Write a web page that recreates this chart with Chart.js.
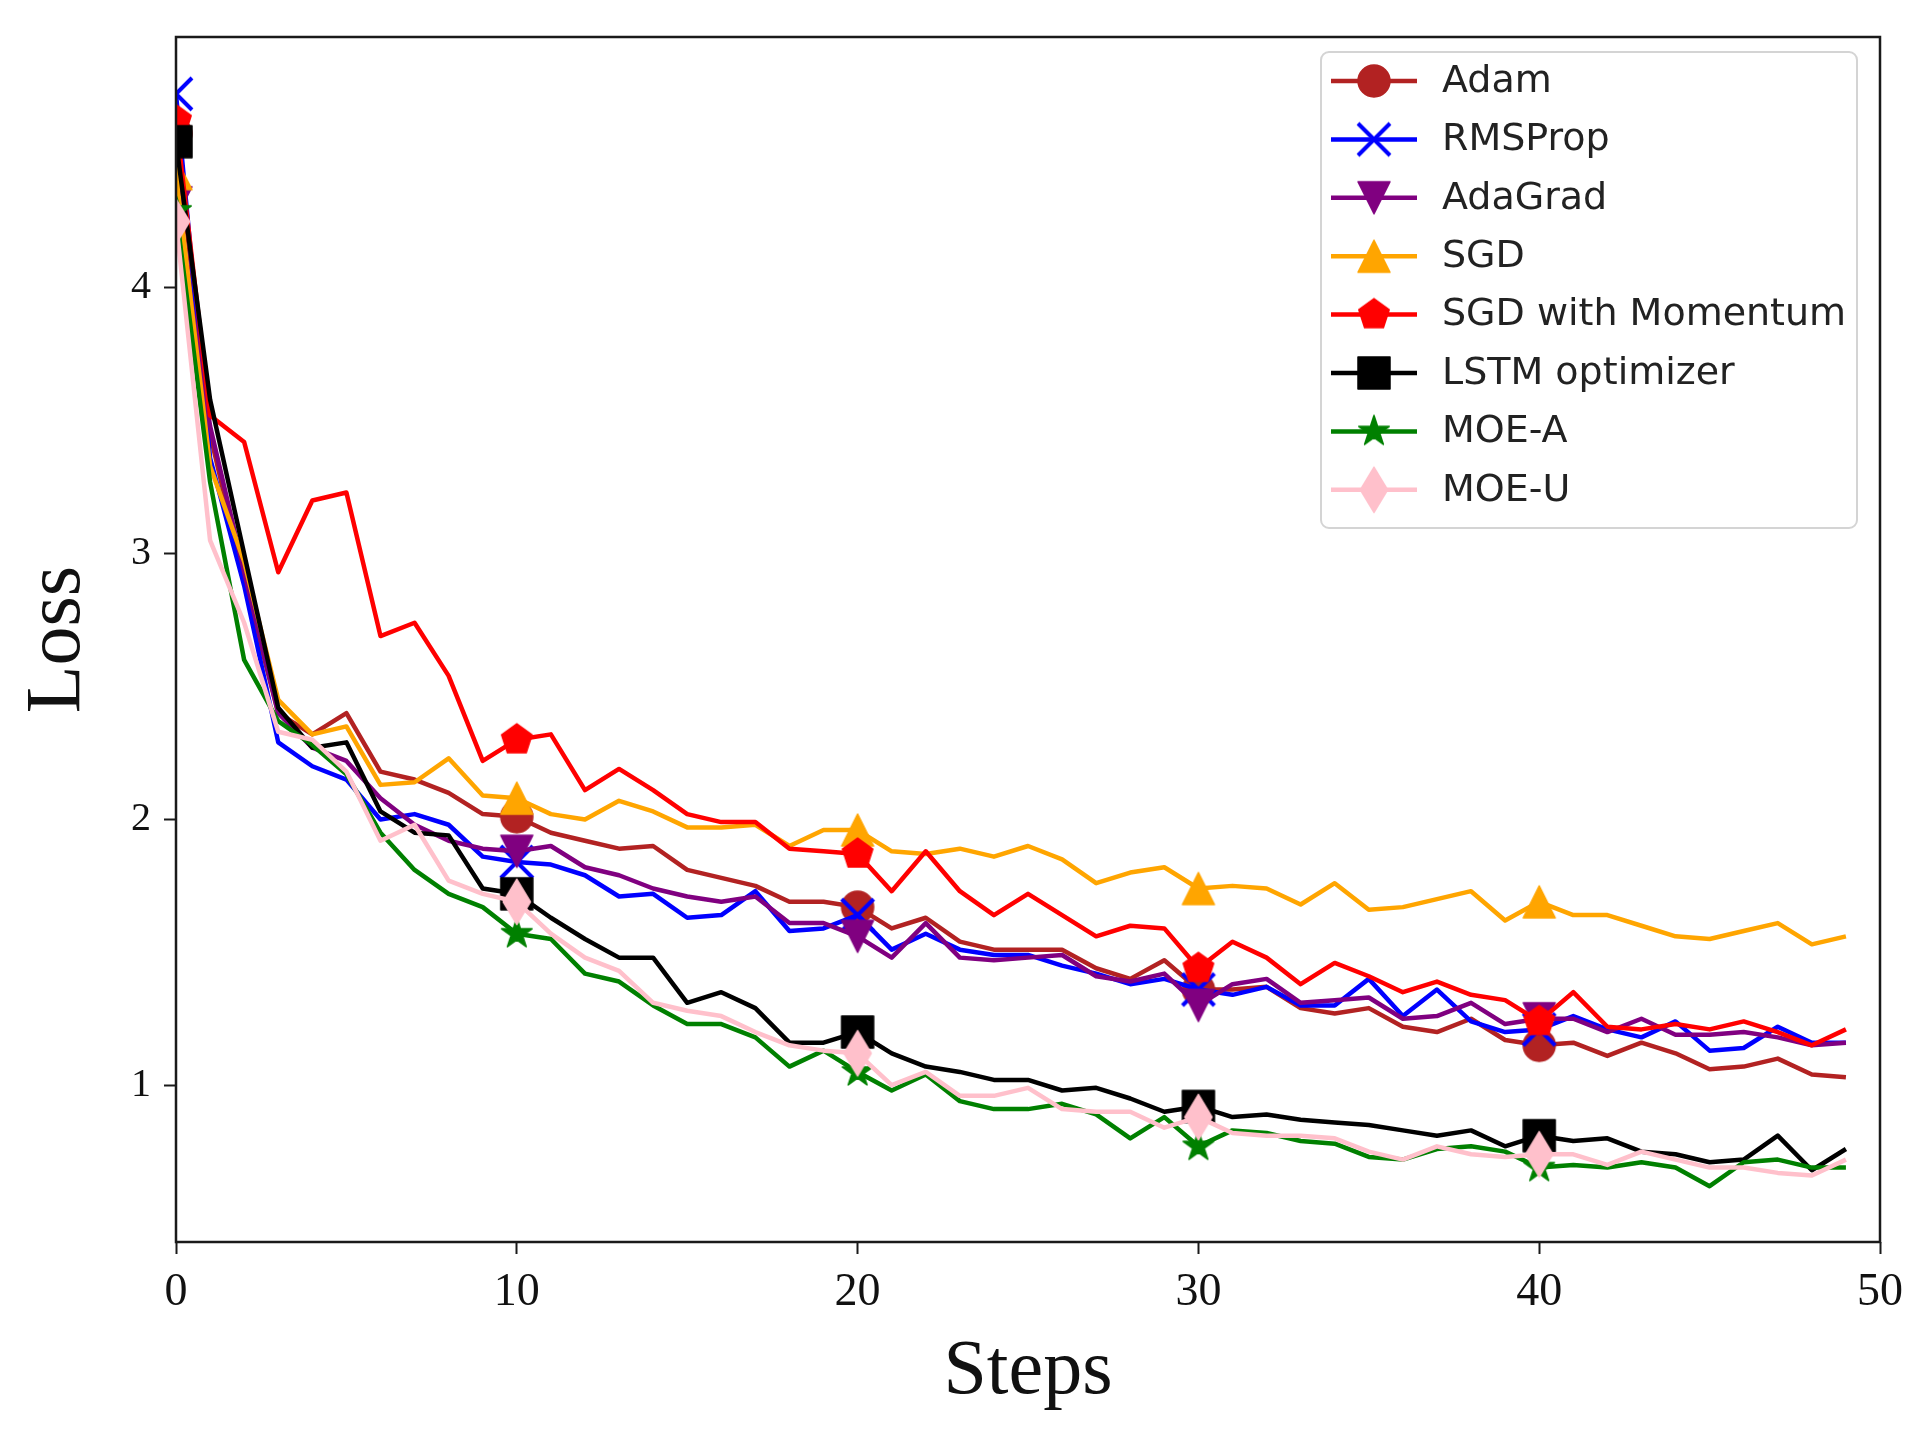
<!DOCTYPE html>
<html>
<head>
<meta charset="utf-8">
<script src="https://cdn.jsdelivr.net/npm/chart.js@4.4.0/dist/chart.umd.min.js"></script>
<style>
  html, body { margin: 0; padding: 0; background: #fff; }
  canvas { display: block; }
</style>
</head>
<body>
<canvas id="lossChart" width="1919" height="1434"></canvas>
<script>
var steps = [0, 1, 2, 3, 4, 5, 6, 7, 8, 9, 10, 11, 12, 13, 14, 15, 16, 17, 18, 19,
             20, 21, 22, 23, 24, 25, 26, 27, 28, 29, 30, 31, 32, 33, 34, 35, 36, 37, 38, 39,
             40, 41, 42, 43, 44, 45, 46, 47, 48, 49];

var adam        = [4.58, 3.45, 2.90, 2.40, 2.32, 2.40, 2.18, 2.15, 2.10, 2.02, 2.01, 1.95, 1.92, 1.89, 1.90, 1.81, 1.78, 1.75, 1.69, 1.69,
                   1.67, 1.59, 1.63, 1.54, 1.51, 1.51, 1.51, 1.44, 1.40, 1.47, 1.36, 1.36, 1.37, 1.29, 1.27, 1.29, 1.22, 1.20, 1.25, 1.17,
                   1.15, 1.16, 1.11, 1.16, 1.12, 1.06, 1.07, 1.10, 1.04, 1.03];
var rmsprop     = [4.73, 3.36, 2.88, 2.29, 2.20, 2.15, 2.00, 2.02, 1.98, 1.86, 1.84, 1.83, 1.79, 1.71, 1.72, 1.63, 1.64, 1.73, 1.58, 1.59,
                   1.64, 1.51, 1.57, 1.51, 1.49, 1.49, 1.45, 1.42, 1.38, 1.40, 1.36, 1.34, 1.37, 1.30, 1.30, 1.40, 1.26, 1.36, 1.24, 1.20,
                   1.21, 1.26, 1.21, 1.18, 1.24, 1.13, 1.14, 1.22, 1.16, 1.16];
var adagrad     = [4.32, 3.48, 2.93, 2.40, 2.27, 2.22, 2.08, 1.98, 1.92, 1.89, 1.88, 1.90, 1.82, 1.79, 1.74, 1.71, 1.69, 1.71, 1.61, 1.61,
                   1.56, 1.48, 1.61, 1.48, 1.47, 1.48, 1.49, 1.41, 1.39, 1.42, 1.30, 1.38, 1.40, 1.31, 1.32, 1.33, 1.25, 1.26, 1.31, 1.23,
                   1.25, 1.25, 1.20, 1.25, 1.19, 1.19, 1.20, 1.18, 1.15, 1.16];
var sgd         = [4.43, 3.33, 2.97, 2.45, 2.32, 2.35, 2.13, 2.14, 2.23, 2.09, 2.08, 2.02, 2.00, 2.07, 2.03, 1.97, 1.97, 1.98, 1.90, 1.96,
                   1.96, 1.88, 1.87, 1.89, 1.86, 1.90, 1.85, 1.76, 1.80, 1.82, 1.74, 1.75, 1.74, 1.68, 1.76, 1.66, 1.67, 1.70, 1.73, 1.62,
                   1.69, 1.64, 1.64, 1.60, 1.56, 1.55, 1.58, 1.61, 1.53, 1.56];
var sgdMomentum = [4.63, 3.52, 3.42, 2.93, 3.20, 3.23, 2.69, 2.74, 2.54, 2.22, 2.30, 2.32, 2.11, 2.19, 2.11, 2.02, 1.99, 1.99, 1.89, 1.88,
                   1.87, 1.73, 1.88, 1.73, 1.64, 1.72, 1.64, 1.56, 1.60, 1.59, 1.44, 1.54, 1.48, 1.38, 1.46, 1.41, 1.35, 1.39, 1.34, 1.32,
                   1.24, 1.35, 1.22, 1.21, 1.23, 1.21, 1.24, 1.20, 1.15, 1.21];
var lstm        = [4.55, 3.58, 3.00, 2.42, 2.27, 2.29, 2.03, 1.95, 1.94, 1.74, 1.72, 1.63, 1.55, 1.48, 1.48, 1.31, 1.35, 1.29, 1.16, 1.16,
                   1.20, 1.12, 1.07, 1.05, 1.02, 1.02, 0.98, 0.99, 0.95, 0.90, 0.92, 0.88, 0.89, 0.87, 0.86, 0.85, 0.83, 0.81, 0.83, 0.77,
                   0.81, 0.79, 0.80, 0.75, 0.74, 0.71, 0.72, 0.81, 0.68, 0.76];
var moeA        = [4.29, 3.27, 2.60, 2.37, 2.28, 2.17, 1.95, 1.81, 1.72, 1.67, 1.57, 1.55, 1.42, 1.39, 1.30, 1.23, 1.23, 1.18, 1.07, 1.13,
                   1.05, 0.98, 1.04, 0.94, 0.91, 0.91, 0.93, 0.89, 0.80, 0.88, 0.77, 0.83, 0.82, 0.79, 0.78, 0.73, 0.72, 0.76, 0.77, 0.75,
                   0.69, 0.70, 0.69, 0.71, 0.69, 0.62, 0.71, 0.72, 0.69, 0.69];
var moeU        = [4.25, 3.05, 2.74, 2.33, 2.30, 2.18, 1.92, 1.98, 1.77, 1.72, 1.69, 1.57, 1.48, 1.43, 1.31, 1.28, 1.26, 1.20, 1.15, 1.13,
                   1.12, 1.00, 1.05, 0.96, 0.96, 0.99, 0.91, 0.90, 0.90, 0.84, 0.88, 0.82, 0.81, 0.81, 0.80, 0.75, 0.72, 0.77, 0.74, 0.73,
                   0.74, 0.74, 0.70, 0.75, 0.72, 0.69, 0.69, 0.67, 0.66, 0.72];

var xTicks = [0, 10, 20, 30, 40, 50];
var yTicks = [1, 2, 3, 4];

var seriesNames   = ['Adam', 'RMSProp', 'AdaGrad', 'SGD', 'SGD with Momentum', 'LSTM optimizer', 'MOE-A', 'MOE-U'];
var seriesColors  = ['#b22222', '#0000ff', '#800080', '#ffa500', '#ff0000', '#000000', '#008000', '#ffc0cb'];
var seriesMarkers = ['circle', 'x', 'triangleDown', 'triangleUp', 'pentagon', 'square', 'star', 'thinDiamond'];
var seriesValues  = [adam, rmsprop, adagrad, sgd, sgdMomentum, lstm, moeA, moeU];

var MARKER_SIZE = 32;
var LINE_WIDTH = 4.5;
var SERIF = '"Liberation Serif", "Times New Roman", serif';
var SANS = '"DejaVu Sans", sans-serif';

// small canvases used as point styles (matplotlib-like markers)
function makeMarker(shape, color) {
    var c = document.createElement('canvas');
    c.width = 52;
    c.height = 52;
    var g = c.getContext('2d');
    var h = MARKER_SIZE / 2;
    g.translate(26, 26);
    g.fillStyle = color;
    g.strokeStyle = color;
    g.lineWidth = 1.5;
    g.lineJoin = 'round';
    g.beginPath();
    if (shape === 'circle') {
        g.arc(0, 0, h, 0, Math.PI * 2);
    } else if (shape === 'square') {
        g.rect(-h, -h, 2 * h, 2 * h);
    } else if (shape === 'triangleUp') {
        g.moveTo(0, -h); g.lineTo(h, h); g.lineTo(-h, h); g.closePath();
    } else if (shape === 'triangleDown') {
        g.moveTo(0, h); g.lineTo(h, -h); g.lineTo(-h, -h); g.closePath();
    } else if (shape === 'pentagon') {
        for (var k = 0; k < 5; k++) {
            var a = -Math.PI / 2 + k * 2 * Math.PI / 5;
            if (k === 0) g.moveTo(h * Math.cos(a), h * Math.sin(a));
            else g.lineTo(h * Math.cos(a), h * Math.sin(a));
        }
        g.closePath();
    } else if (shape === 'star') {
        for (var j = 0; j < 10; j++) {
            var r = j % 2 === 0 ? h : h * 0.381966;
            var b = -Math.PI / 2 + j * Math.PI / 5;
            if (j === 0) g.moveTo(r * Math.cos(b), r * Math.sin(b));
            else g.lineTo(r * Math.cos(b), r * Math.sin(b));
        }
        g.closePath();
    } else if (shape === 'thinDiamond') {
        var d = h * Math.SQRT2;
        g.moveTo(0, -d); g.lineTo(0.6 * d, 0); g.lineTo(0, d); g.lineTo(-0.6 * d, 0); g.closePath();
    }
    if (shape === 'x') {
        g.lineWidth = 4;
        g.moveTo(-h, -h); g.lineTo(h, h);
        g.moveTo(h, -h); g.lineTo(-h, h);
        g.stroke();
    } else {
        g.fill();
        g.stroke();
    }
    return c;
}

var markerCanvases = seriesMarkers.map(function (m, i) { return makeMarker(m, seriesColors[i]); });

var datasets = seriesValues.map(function (vals, i) {
    var marker = markerCanvases[i];
    return {
        label: seriesNames[i],
        data: vals.map(function (v, k) { return { x: steps[k], y: v }; }),
        borderColor: seriesColors[i],
        backgroundColor: seriesColors[i],
        borderWidth: LINE_WIDTH,
        borderJoinStyle: 'round',
        tension: 0,
        order: seriesValues.length - 1 - i,
        pointStyle: function (ctx) { return ctx.dataIndex % 10 === 0 ? marker : 'circle'; },
        pointRadius: function (ctx) { return ctx.dataIndex % 10 === 0 ? MARKER_SIZE / 2 : 0; },
        pointHoverRadius: 0
    };
});

var framePlugin = {
    id: 'frame',
    afterDatasetsDraw: function (chart) {
        var a = chart.chartArea;
        var c = chart.ctx;
        c.save();
        c.strokeStyle = '#1a1a1a';
        c.lineWidth = 2.5;
        c.strokeRect(a.left, a.top, a.right - a.left, a.bottom - a.top);
        c.restore();
    }
};

var legendPlugin = {
    id: 'lineLegend',
    afterDraw: function (chart) {
        var c = chart.ctx;
        var box = { x: 1321, y: 52, w: 536, h: 476 };
        c.save();
        c.beginPath();
        c.roundRect(box.x, box.y, box.w, box.h, 8);
        c.fillStyle = 'rgba(255,255,255,0.85)';
        c.fill();
        c.strokeStyle = '#d4d4d4';
        c.lineWidth = 2;
        c.stroke();

        c.font = '38px ' + SANS;
        c.textBaseline = 'middle';
        c.textAlign = 'left';
        for (var i = 0; i < seriesNames.length; i++) {
            var y = 81 + i * 58.4;
            c.beginPath();
            c.moveTo(1331, y);
            c.lineTo(1417, y);
            c.strokeStyle = seriesColors[i];
            c.lineWidth = LINE_WIDTH;
            c.stroke();
            var m = markerCanvases[i];
            c.drawImage(m, 1374 - m.width / 2, y - m.height / 2);
            c.fillStyle = '#222';
            c.fillText(seriesNames[i], 1442, y + 1);
        }
        c.restore();
    }
};

new Chart(document.getElementById('lossChart').getContext('2d'), {
    type: 'line',
    data: { datasets: datasets },
    options: {
        responsive: false,
        devicePixelRatio: 1,
        animation: false,
        layout: { padding: { left: 0, right: 39, top: 27, bottom: 0 } },
        plugins: {
            legend: { display: false },
            tooltip: { enabled: false }
        },
        scales: {
            x: {
                type: 'linear',
                min: 0,
                max: 50,
                afterBuildTicks: function (s) { s.ticks = xTicks.map(function (v) { return { value: v }; }); },
                afterFit: function (s) { s.height = 192; },
                grid: { display: true, drawOnChartArea: false, tickLength: 12, tickWidth: 2, color: '#1a1a1a', tickColor: '#1a1a1a' },
                border: { display: false },
                ticks: { font: { family: SERIF, size: 46 }, color: '#111', padding: 11, maxRotation: 0, autoSkip: false },
                title: { display: true, text: 'Steps', font: { family: SERIF, size: 78 }, color: '#111', padding: { top: 0, bottom: 15 } }
            },
            y: {
                min: 0.41,
                max: 4.944,
                afterBuildTicks: function (s) { s.ticks = yTicks.map(function (v) { return { value: v }; }); },
                afterFit: function (s) { s.width = 176; },
                grid: { display: true, drawOnChartArea: false, tickLength: 12, tickWidth: 2, color: '#1a1a1a', tickColor: '#1a1a1a' },
                border: { display: false },
                ticks: { font: { family: SERIF, size: 40 }, color: '#111', padding: 13 },
                title: { display: true, text: 'Loss', font: { family: SERIF, size: 78 }, color: '#111', padding: { top: 12, bottom: 0 } }
            }
        }
    },
    plugins: [framePlugin, legendPlugin]
});
</script>
</body>
</html>
